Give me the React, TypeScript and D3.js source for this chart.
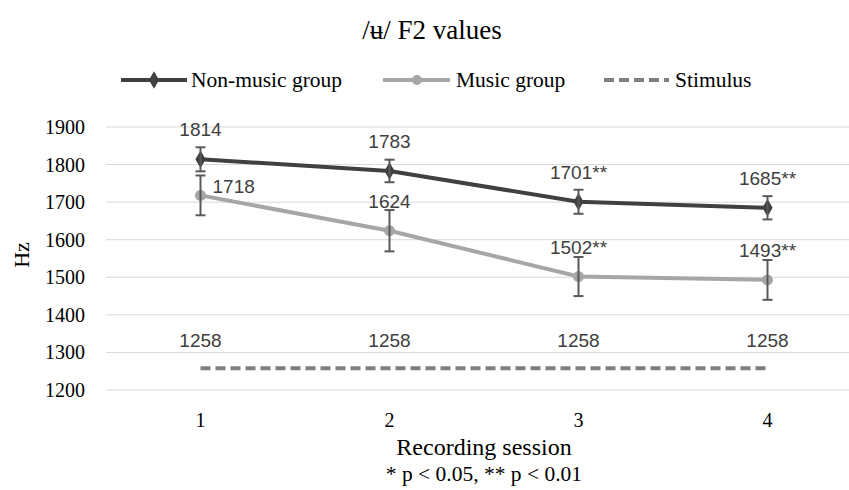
import React from 'react'
import * as d3 from 'd3'

const sessions = ['1', '2', '3', '4']
const yTicks = [1200, 1300, 1400, 1500, 1600, 1700, 1800, 1900]
const nonMusic = [1814, 1783, 1701, 1685]
const nonMusicErr = [32, 30, 32, 31]
const nonMusicSig = ['', '', '**', '**']
const music = [1718, 1624, 1502, 1493]
const musicErr = [53, 55, 52, 53]
const musicSig = ['', '', '**', '**']
const stimulus = [1258, 1258, 1258, 1258]

const W = 849
const H = 490
const SERIF = '"Liberation Serif", "Times New Roman", serif'
const SANS = '"Liberation Sans", Arial, sans-serif'

const x = d3.scalePoint<string>().domain(sessions).range([106, 862]).padding(0.5)
const y = d3.scaleLinear().domain([1200, 1900]).range([390, 127])

const lineGen = d3
  .line<number>()
  .x((d, i) => x(sessions[i]) as number)
  .y(d => y(d))

const ErrorBars = ({ values, errs }: { values: number[]; errs: number[] }) => (
  <g stroke="#595959" strokeWidth={2}>
    {values.map((v, i) => {
      const cx = x(sessions[i]) as number
      const top = y(v + errs[i])
      const bot = y(v - errs[i])
      return (
        <g key={i}>
          <line x1={cx} x2={cx} y1={top} y2={bot} />
          <line x1={cx - 5} x2={cx + 5} y1={top} y2={top} />
          <line x1={cx - 5} x2={cx + 5} y1={bot} y2={bot} />
        </g>
      )
    })}
  </g>
)

const diamond = d3.symbol().type(d3.symbolDiamond).size(90)

export default function App() {
  return (
    <svg width={W} height={H} style={{ position: 'absolute', left: 0, top: 0, background: '#fff' }}>
      {/* title */}
      <text x={432} y={39} textAnchor="middle" fontFamily={SERIF} fontSize={27} fill="#000">
        /ʉ/ F2 values
      </text>

      {/* legend */}
      <g fontFamily={SERIF} fontSize={21.5} fill="#000">
        <line x1={121} x2={187} y1={80} y2={80} stroke="#404040" strokeWidth={4} />
        <path d={diamond() as string} transform="translate(154,80)" fill="#404040" />
        <text x={191} y={87}>Non-music group</text>
        <line x1={383} x2={450} y1={80} y2={80} stroke="#a6a6a6" strokeWidth={4} />
        <circle cx={417} cy={80} r={5} fill="#a6a6a6" />
        <text x={456} y={87}>Music group</text>
        <line x1={604} x2={669} y1={80} y2={80} stroke="#7f7f7f" strokeWidth={4} strokeDasharray="10,5" />
        <text x={675} y={87}>Stimulus</text>
      </g>

      {/* grid + y axis */}
      <g>
        {yTicks.map(t => (
          <g key={t}>
            <line x1={106} x2={W} y1={y(t)} y2={y(t)} stroke="#d9d9d9" strokeWidth={1} />
            <text x={85} y={y(t) + 7} textAnchor="end" fontFamily={SERIF} fontSize={20} fill="#000">
              {t}
            </text>
          </g>
        ))}
      </g>
      <text transform="translate(29,255) rotate(-90)" textAnchor="middle" fontFamily={SERIF} fontSize={22} fill="#000">
        Hz
      </text>

      {/* x axis */}
      {sessions.map(s => (
        <text key={s} x={x(s)} y={427} textAnchor="middle" fontFamily={SERIF} fontSize={20} fill="#000">
          {s}
        </text>
      ))}
      <text x={484} y={455} textAnchor="middle" fontFamily={SERIF} fontSize={24} fill="#000">
        Recording session
      </text>
      <text x={484} y={481} textAnchor="middle" fontFamily={SERIF} fontSize={21.5} fill="#000">
        * p &lt; 0.05, ** p &lt; 0.01
      </text>

      {/* stimulus */}
      <path d={lineGen(stimulus) as string} fill="none" stroke="#7f7f7f" strokeWidth={4} strokeDasharray="10,5" />

      {/* music */}
      <path d={lineGen(music) as string} fill="none" stroke="#a6a6a6" strokeWidth={4} />
      {music.map((v, i) => (
        <circle key={i} cx={x(sessions[i])} cy={y(v)} r={5.5} fill="#a6a6a6" />
      ))}
      <ErrorBars values={music} errs={musicErr} />

      {/* non-music */}
      <path d={lineGen(nonMusic) as string} fill="none" stroke="#404040" strokeWidth={4} />
      {nonMusic.map((v, i) => (
        <path key={i} d={diamond() as string} transform={`translate(${x(sessions[i])},${y(v)})`} fill="#404040" />
      ))}
      <ErrorBars values={nonMusic} errs={nonMusicErr} />

      {/* data labels */}
      <g fontFamily={SANS} fontSize={19} fill="#404040">
        {nonMusic.map((v, i) => (
          <text key={'n' + i} x={x(sessions[i])} y={y(v) - 23} textAnchor="middle">
            {v + nonMusicSig[i]}
          </text>
        ))}
        {music.map((v, i) =>
          i === 0 ? (
            <text key={'m' + i} x={(x(sessions[i]) as number) + 12} y={y(v) - 2}>
              {v + musicSig[i]}
            </text>
          ) : (
            <text key={'m' + i} x={x(sessions[i])} y={y(v) - 23} textAnchor="middle">
              {v + musicSig[i]}
            </text>
          )
        )}
        {stimulus.map((v, i) => (
          <text key={'s' + i} x={x(sessions[i])} y={y(v) - 21} textAnchor="middle">
            {v}
          </text>
        ))}
      </g>
    </svg>
  )
}
